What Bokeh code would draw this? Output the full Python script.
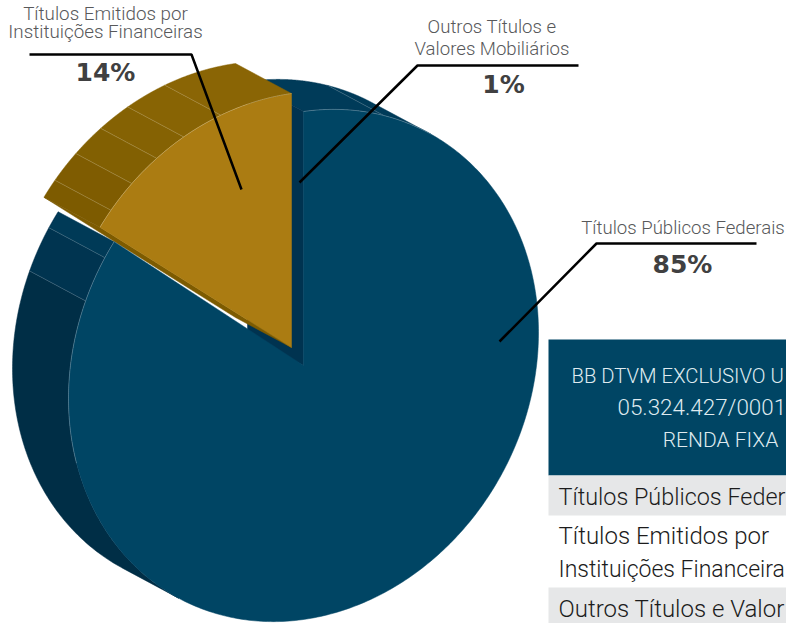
import numpy as np
from bokeh.plotting import figure
from bokeh.embed import file_html
from bokeh.resources import INLINE
from bokeh.core.properties import value

categories = ["Títulos Públicos Federais", "Títulos Emitidos por Instituições Financeiras", "Outros Títulos e Valores Mobiliários"]
shares = [85, 14, 1]
pct_labels = ["85%", "14%", "1%"]
table_header = ["BB DTVM EXCLUSIVO U", "05.324.427/0001", "RENDA FIXA"]
table_rows = ["Títulos Públicos Feder", "Títulos Emitidos por", "Instituições Financeira", "Outros Títulos e Valor"]

BLUE, GOLD = "#004564", "#ab7c12"
LIGHT = "Roboto Light"

p = figure(width=786, height=623, x_range=(0, 786), y_range=(623, 0), toolbar_location=None,
           output_backend="svg", min_border=0, outline_line_color=None)
p.axis.visible = False
p.grid.visible = False
p.background_fill_color = "white"

# projection of the tilted disc
A, C, D = 235.0, 254.0, 33.0
DEPTH = (-56.0, -30.0)
blue_c = (303.0, 365.0)
gold_c = (291.0, 347.0)
blue_end = shares[0] * 3.6 + 0.3
gold_start = shares[0] * 3.6 - 0.6

def arc(c, t1, t2, off=(0, 0), n=120):
    t = np.radians(np.linspace(t1, t2, n))
    return (c[0] + off[0] + A * np.sin(t), c[1] + off[1] - C * np.cos(t) - D * np.sin(t))

def wall(c, t1, t2, color):
    x1, y1 = arc(c, t1, t2)
    x2, y2 = arc(c, t2, t1, DEPTH)
    p.patch(np.r_[x1, x2], np.r_[y1, y2], fill_color=color, line_color=color, line_width=0.5)

def seam(c, t):
    x, y = arc(c, t, t, n=1)
    p.line([x[0], x[0] + DEPTH[0]], [y[0], y[0] + DEPTH[1]], line_color="#ffffff", line_alpha=0.22, line_width=0.8)

def edge(c, t1, t2, alpha):
    x, y = arc(c, t1, t2)
    p.line(x, y, line_color="#ffffff", line_alpha=alpha, line_width=0.8)

# blue slice: walls
for t1, t2, col in [(0, 20, "#003b59"), (20, 33, "#003b59"), (212, 292, "#002e46"),
                    (292, blue_end - 4, "#003450"), (blue_end - 4, blue_end, "#003a57")]:
    wall(blue_c, t1, t2, col)
for t in (20, 292, blue_end - 4):
    seam(blue_c, t)
# inner radial wall of blue
bx, by = blue_c
tx, ty = arc(blue_c, 0, 0, n=1)
p.patch([tx[0], bx, bx + DEPTH[0], tx[0] + DEPTH[0]], [ty[0], by, by + DEPTH[1], ty[0] + DEPTH[1]],
        fill_color="#003350", line_color="#003350", line_width=0.5)

# gold slice: outer walls, radial wall, face
g_facets = [gold_start, 309.8, 317.2, 325, 332.7, 342.5, 360]
g_cols = ["#7d5b00", "#7f5c01", "#826002", "#856203", "#886404", "#8a6505"]
for t1, t2, col in zip(g_facets[:-1], g_facets[1:], g_cols):
    wall(gold_c, t1, t2, col)
for t in g_facets[1:-1]:
    seam(gold_c, t)
sx, sy = arc(gold_c, gold_start, gold_start, n=1)
gx, gy = gold_c
p.patch([gx, sx[0], sx[0] + DEPTH[0], gx + DEPTH[0]], [gy, sy[0], sy[0] + DEPTH[1], gy + DEPTH[1]],
        fill_color="#7d5b00", line_color="#7d5b00", line_width=0.5)
x, y = arc(gold_c, gold_start, 360)
p.patch(np.r_[gx, x], np.r_[gy, y], fill_color=GOLD, line_color=GOLD, line_width=0.5)
edge(gold_c, gold_start, 360, 0.3)

# blue slice: face
x, y = arc(blue_c, 0, blue_end, n=400)
p.patch(np.r_[bx, x], np.r_[by, y], fill_color=BLUE, line_color=BLUE, line_width=0.5)
edge(blue_c, 0, 33, 0.3)
edge(blue_c, 255, blue_end, 0.3)

# leaders
for lx, ly in [([499, 596, 756], [341, 243, 243]),
               ([299, 417, 578], [182, 65, 65]),
               ([29, 191, 241], [54, 54, 189])]:
    p.line(lx, ly, line_color="#000000", line_width=2.5)

def txt(x, y, s, size, color, font=LIGHT, align="center", style="normal"):
    p.text([x], [y - 8], text=[s], text_font=value(font), text_font_size=f"{size}px", text_color=color,
           text_align=align, text_baseline="alphabetic", text_font_style=style)

LAB = "#58595b"
txt(105, 21, "Títulos Emitidos por", 18.8, LAB)
txt(105, 39, "Instituições Financeiras", 18.8, LAB)
txt(491.5, 34, "Outros Títulos e", 18.6, LAB)
txt(491.5, 56, "Valores Mobiliários", 18.6, LAB)
txt(682.5, 235, categories[0], 18.6, LAB)
PCT = "#404041"
txt(105, 80, pct_labels[1], 25, PCT, "DejaVu Sans", style="bold")
txt(503, 92, pct_labels[2], 25, PCT, "DejaVu Sans", style="bold")
txt(682, 272, pct_labels[0], 25, PCT, "DejaVu Sans", style="bold")

# table
p.quad(left=[548, 548, 548], right=[786, 786, 786], top=[339, 475, 587], bottom=[475, 515, 623],
       fill_color=[BLUE, "#e6e7e8", "#e6e7e8"], line_color=None)
HDR = "#dfeaef"
txt(571, 383, table_header[0], 20.3, HDR, align="left")
txt(617, 414.5, table_header[1], 22.4, HDR, align="left")
txt(720, 447, table_header[2], 21, HDR)
ROW = "#1c1c1c"
for yy, s, sz in zip([504, 543, 577, 616], table_rows, [23.4, 24, 23, 24]):
    txt(558, yy, s, sz, ROW, align="left")

open("out.html", "w").write(file_html(p, INLINE))
